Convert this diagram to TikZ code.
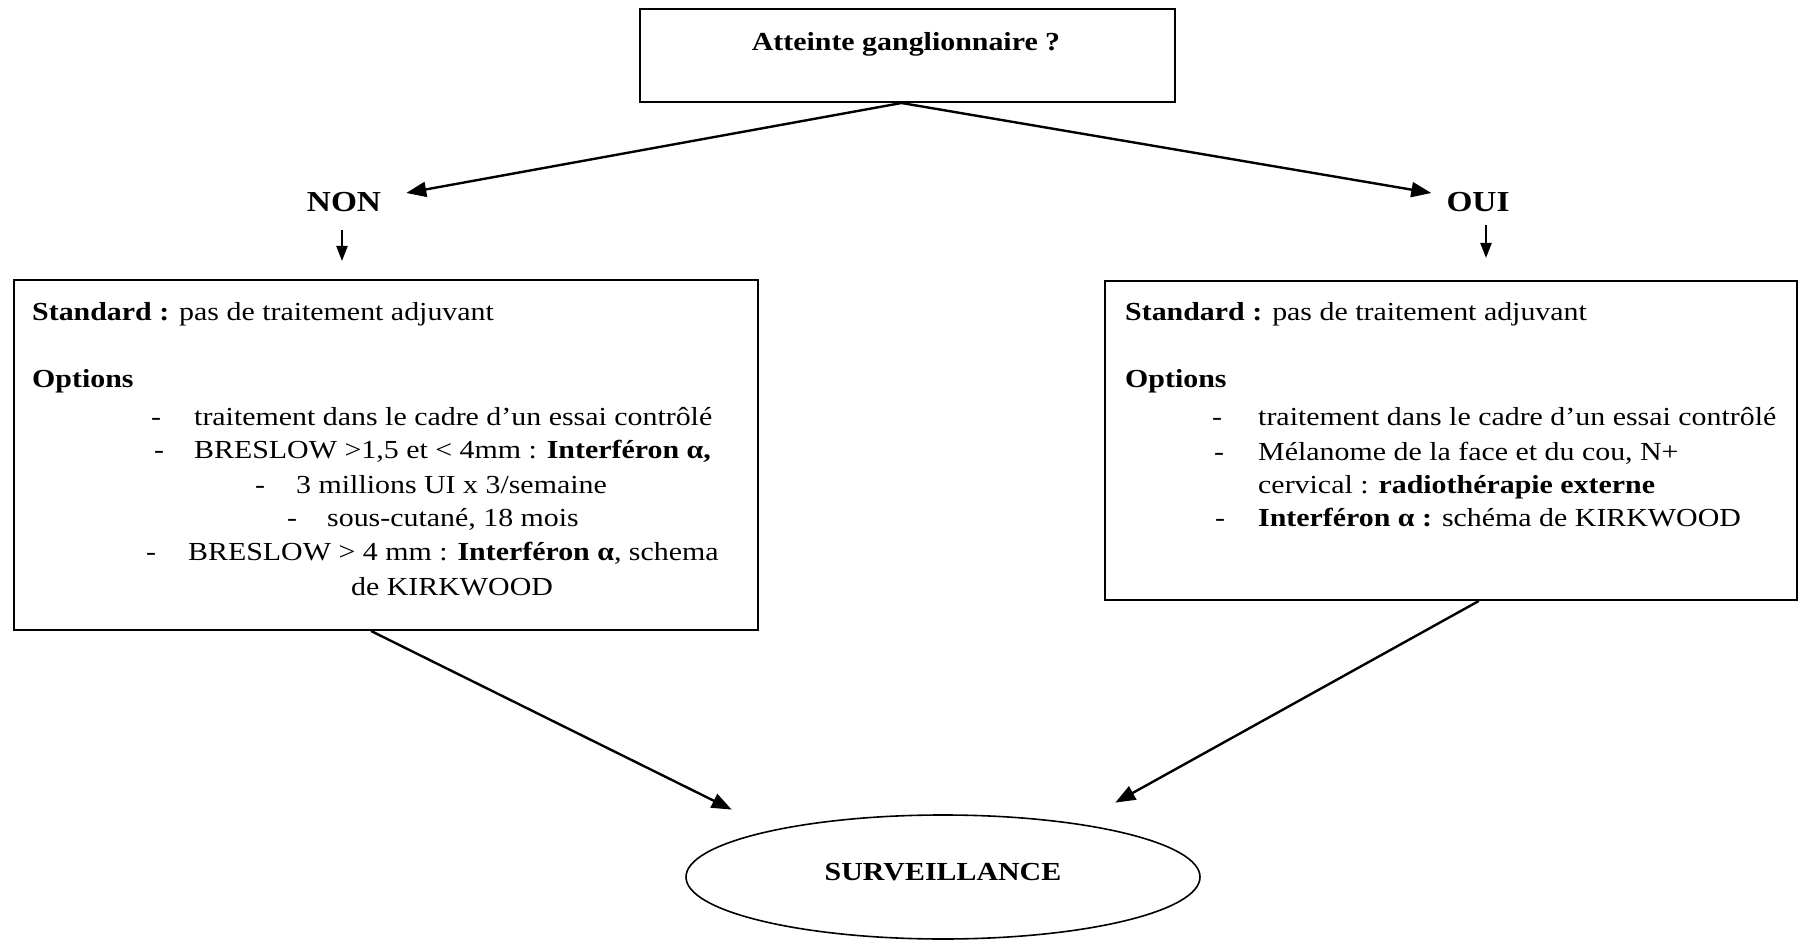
\documentclass[tikz,border=0pt]{standalone}
\usepackage{fontspec}
\setmainfont{Liberation Serif}[FakeStretch=1.15]
\usetikzlibrary{arrows.meta,shapes.geometric,calc}
\begin{document}
\begin{tikzpicture}[x=1pt,y=-1pt,
  box/.style={draw,line width=2pt,inner sep=0pt,rectangle},
  txt/.style={anchor=base west,inner sep=0pt,font=\fontsize{26}{31}\selectfont},
  ctxt/.style={inner sep=0pt,font=\fontsize{26}{31}\selectfont\bfseries},
  big/.style={inner sep=0pt,font=\fontsize{29}{34}\selectfont\bfseries},
  arr/.style={line width=2.4pt,-{Triangle[length=20pt,width=15pt]}},
  sarr/.style={line width=2.2pt,-{Triangle[length=15pt,width=11pt]}},
  ell/.style={draw,ellipse,line width=1.6pt,minimum width=514pt,minimum height=124pt,inner sep=0pt}
]
\useasboundingbox (0,0) rectangle (1800,941);

% top box
\node[box,minimum width=535pt,minimum height=93pt] (top) at (907.5,55.5) {};
\node[ctxt] (toptxt) at (906,44) {Atteinte ganglionnaire ?};

% NON / OUI
\node[big] (non) at (344,202) {NON};
\node[big] (oui) at (1478,202) {OUI};

% left box
\node[box,minimum width=744pt,minimum height=350pt] (lbox) at (386,455) {};
\node[txt] (ls) at (32,321) {\textbf{Standard :} pas de traitement adjuvant};
\node[txt] (lo) at (32,388) {\textbf{Options}};
\node[txt] (ld1) at (151,425) {-};
\node[txt] (l1) at (194,425) {traitement dans le cadre d’un essai contrôlé};
\node[txt] (ld2) at (154,458) {-};
\node[txt] (l2) at (194,458) {BRESLOW >1,5 et < 4mm : \textbf{Interféron α,}};
\node[txt] (ld3) at (255,493) {-};
\node[txt] (l3) at (296,493) {3 millions UI x 3/semaine};
\node[txt] (ld4) at (287,526) {-};
\node[txt] (l4) at (327,526) {sous-cutané, 18 mois};
\node[txt] (ld5) at (146,560) {-};
\node[txt] (l5) at (188,560) {BRESLOW > 4 mm : \textbf{Interféron α}, schema};
\node[txt] (l6) at (351,595) {de KIRKWOOD};

% right box
\node[box,minimum width=692pt,minimum height=319pt] (rbox) at (1451,440.5) {};
\node[txt] (rs) at (1125,321) {\textbf{Standard :} pas de traitement adjuvant};
\node[txt] (ro) at (1125,388) {\textbf{Options}};
\node[txt] (rd1) at (1212,425) {-};
\node[txt] (r1) at (1258,425) {traitement dans le cadre d’un essai contrôlé};
\node[txt] (rd2) at (1214,460) {-};
\node[txt] (r2) at (1258,460) {Mélanome de la face et du cou, N+};
\node[txt] (r3) at (1258,493) {cervical : \textbf{radiothérapie externe}};
\node[txt] (rd4) at (1215,526) {-};
\node[txt] (r4) at (1258,526) {\textbf{Interféron α :} schéma de KIRKWOOD};

% ellipse
\node[ell] (surv) at (943,877) {};
\node[ctxt] (survtxt) at (943,872) {SURVEILLANCE};

% connectors
\draw[arr] ([xshift=-6pt]top.south) -- ([xshift=25pt,yshift=9pt]non.east);
\draw[arr] ([xshift=-6pt]top.south) -- ([xshift=-15pt,yshift=9pt]oui.west);
\draw[sarr] ($(non.south)+(-2,18)$) -- ($(non.south |- lbox.north)+(-2,-18)$);
\draw[sarr] ($(oui.south)+(8,13)$) -- ($(oui.south |- rbox.north)+(8,-22)$);
\draw[arr] ($(lbox.south west)!0.48!(lbox.south east)$) -- ($(surv.north west)+(-29,-23)$);
\draw[arr] ($(rbox.south west)!0.54!(rbox.south east)$) -- ($(surv.north east)+(-10,-30)$);
\end{tikzpicture}
\end{document}
